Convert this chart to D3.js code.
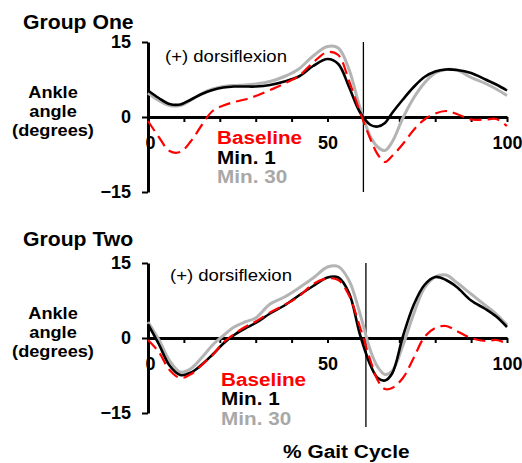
<!DOCTYPE html>
<html>
<head>
<meta charset="utf-8">
<script src="https://cdn.jsdelivr.net/npm/d3@7"></script>
<style>
  body { margin: 0; background: #fff; }
  svg { display: block; font-family: Arial, "Liberation Sans", sans-serif; }
  .axis path, .axis line { stroke: #000; }
  .axis text { font-size: 18px; font-weight: bold; fill: #000; }
</style>
</head>
<body>
<div id="chart"></div>
<script>
// % gait cycle sample points
const pct = [0, 3, 6, 9, 12, 15, 18, 21, 24, 27, 30, 34, 38, 42, 46, 50, 53, 56, 59, 62, 64, 66, 68, 71, 74, 77, 80, 83, 86, 90, 94, 97, 100];

// Group One
const g1Baseline = [-0.8, -4.0, -6.8, -7.0, -4.8, -1.6, 1.2, 2.3, 3.0, 3.5, 4.2, 5.4, 6.7, 8.2, 10.9, 13.0, 12.4, 7.2, 1.1, -4.5, -7.5, -9.0, -7.8, -5.4, -2.6, -0.5, 0.7, 1.2, 0.6, -0.5, -0.5, -0.4, -1.8];
const g1Min1 = [5.3, 3.8, 2.6, 2.5, 3.5, 4.6, 5.4, 5.9, 6.1, 6.1, 6.1, 6.4, 7.1, 8.1, 10.2, 11.6, 10.6, 6.0, 1.0, -1.6, -1.9, -1.2, 0.8, 3.5, 6.0, 8.0, 9.1, 9.5, 9.4, 8.8, 7.5, 6.5, 5.3];
const g1Min30 = [4.8, 3.3, 2.3, 2.3, 3.4, 4.7, 5.6, 6.1, 6.3, 6.4, 6.6, 7.1, 8.1, 9.6, 12.2, 14.1, 13.8, 9.5, 2.0, -4.0, -6.0, -6.7, -5.0, -0.2, 3.8, 6.8, 8.8, 9.5, 9.4, 7.9, 6.7, 5.6, 4.3];

// Group Two
const g2Baseline = [-0.4, -2.8, -6.4, -8.0, -7.2, -5.4, -3.4, -0.9, 0.8, 2.2, 3.3, 5.1, 6.6, 8.3, 10.8, 11.9, 11.6, 8.5, 2.3, -4.6, -8.5, -10.2, -10.0, -8.0, -4.0, 0.2, 2.0, 2.4, 1.4, 0.0, -0.6, -0.4, -1.1];
const g2Min1 = [2.8, -1.2, -5.5, -7.4, -6.9, -5.3, -3.3, -1.1, 0.6, 1.9, 3.0, 4.9, 6.5, 8.5, 10.4, 12.1, 12.1, 9.0, 0.8, -5.5, -8.0, -8.5, -7.1, 0.3, 6.6, 10.6, 12.2, 11.6, 10.2, 7.5, 5.8, 4.3, 2.2];
const g2Min30 = [3.2, -0.3, -4.5, -6.8, -6.1, -3.9, -1.4, 0.5, 2.2, 3.2, 4.0, 6.8, 8.2, 10.0, 12.0, 14.2, 14.3, 11.5, 5.0, -2.6, -5.8, -7.3, -6.6, -1.5, 4.8, 10.0, 12.2, 12.6, 11.1, 8.8, 6.5, 4.8, 2.6];

const yTicks = [-15, 0, 15];
const xTicks = [0, 10, 20, 30, 40, 50, 60, 70, 80, 90, 100];
const xLabels = [0, 50, 100];
const legendLabels = ["Baseline", "Min. 1", "Min. 30"];
const toeOff = [60, 60.7];

const W = 522, H = 463;
const colors = {Baseline: "#ff0000", "Min. 1": "#000000", "Min. 30": "#b4b4b4"};

const svg = d3.select("#chart").append("svg")
    .attr("width", W)
    .attr("height", H);

const x = d3.scaleLinear().domain([0, 100]).range([148, 507]);

// text helper, sx stretches horizontally a bit to match the reference
function label(x0, y0, txt, size, weight, fill, anchor, sx) {
    return svg.append("text")
        .attr("transform", `translate(${x0},${y0}) scale(${sx || 1},1)`)
        .attr("text-anchor", anchor || "start")
        .style("font-size", size + "px")
        .style("font-weight", weight)
        .style("fill", fill || "#000")
        .text(txt);
}

function drawPanel(opt) {
    const y = d3.scaleLinear().domain([-15, 15]).range([opt.top + 150, opt.top]);

    // title
    label(23, opt.titleY, opt.title, 20, "bold", "#000", "start", 1.06);

    // y label
    ["Ankle", "angle", "(degrees)"].forEach((t, i) => {
        label(53, opt.top + 56 + i * 19, t, 17, "bold", "#000", "middle", 1.07);
    });

    // axes
    const gy = svg.append("g")
        .attr("class", "axis")
        .attr("transform", `translate(${x(0)},0)`)
        .call(d3.axisLeft(y).tickValues(yTicks).tickSize(6).tickPadding(11).tickSizeOuter(0));
    gy.select(".domain").attr("stroke-width", 3);
    gy.selectAll(".tick line").attr("stroke-width", 2);

    const gx = svg.append("g")
        .attr("class", "axis")
        .attr("transform", `translate(0,${y(0)})`)
        .call(d3.axisBottom(x).tickValues(xTicks).tickSize(5).tickPadding(14).tickSizeOuter(0)
            .tickFormat(d => xLabels.includes(d) ? d : ""));
    gx.select(".domain").attr("stroke-width", 3);
    gx.selectAll(".tick line").attr("stroke-width", 2);
    gx.selectAll(".tick text").filter(d => d === 0).attr("x", 2);

    // toe-off line
    svg.append("line")
        .attr("x1", x(opt.toe)).attr("x2", x(opt.toe))
        .attr("y1", y(15)).attr("y2", y(opt.toeBottom))
        .attr("stroke", "#000")
        .attr("stroke-width", 1.3);

    // curves
    const line = d3.line()
        .x((d, i) => x(pct[i]))
        .y(d => y(d))
        .curve(d3.curveCatmullRom.alpha(0.5));

    svg.append("path")
        .datum(opt.min30)
        .attr("d", line)
        .attr("fill", "none")
        .attr("stroke", colors["Min. 30"])
        .attr("stroke-width", 3);

    svg.append("path")
        .datum(opt.min1)
        .attr("d", line)
        .attr("fill", "none")
        .attr("stroke", colors["Min. 1"])
        .attr("stroke-width", 2.6);

    svg.append("path")
        .datum(opt.baseline)
        .attr("d", line)
        .attr("fill", "none")
        .attr("stroke", colors.Baseline)
        .attr("stroke-width", 2.2)
        .attr("stroke-dasharray", "12,6");

    // annotation
    label(opt.dorsiX, opt.dorsiY, "(+) dorsiflexion", 17, "normal", "#000", "start", 1.09);

    // legend
    legendLabels.forEach((t, i) => {
        label(opt.legX, opt.legY + i * 19.5, t, 19, "bold", t === "Min. 30" ? "#a8a8a8" : colors[t], "start", 1.09);
    });
}

drawPanel({
    title: "Group One", titleY: 28.5, top: 42,
    baseline: g1Baseline, min1: g1Min1, min30: g1Min30,
    toe: toeOff[0], toeBottom: -15,
    dorsiX: 165, dorsiY: 61.5,
    legX: 217, legY: 144
});

drawPanel({
    title: "Group Two", titleY: 246, top: 263,
    baseline: g2Baseline, min1: g2Min1, min30: g2Min30,
    toe: toeOff[1], toeBottom: -17.8,
    dorsiX: 170, dorsiY: 281,
    legX: 221, legY: 385.5
});

label(283, 458, "% Gait Cycle", 19, "bold", "#000", "start", 1.1);
</script>
</body>
</html>
